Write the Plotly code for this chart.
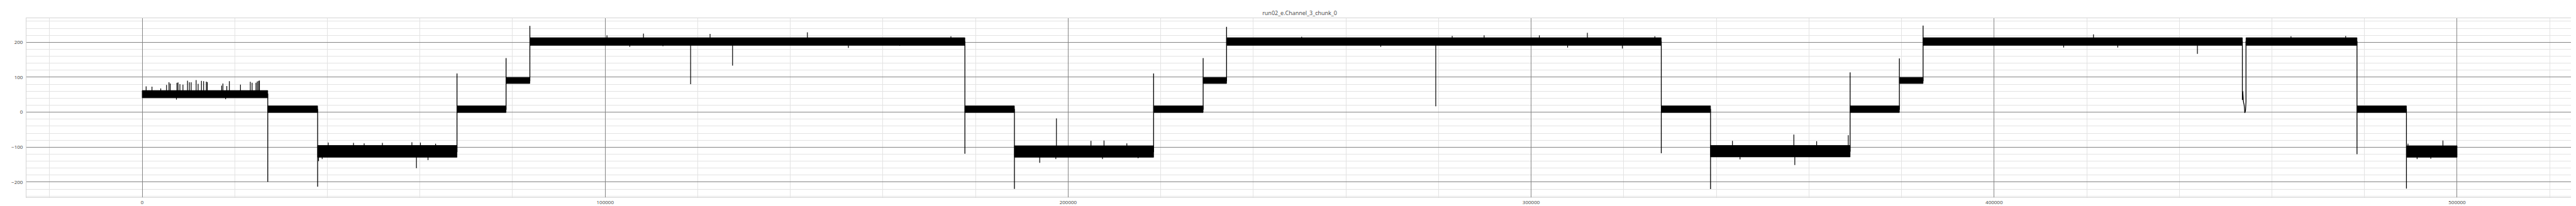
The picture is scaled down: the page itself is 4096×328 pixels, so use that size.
import plotly.graph_objects as go

TITLE = "run02_e.Channel_3_chunk_0"

# Plateaus of the trace: start sample, end sample, centre level, lower / upper edge of the noise band
seg_start = [0, 27130, 37900, 68000, 78600, 83740, 177700, 188400, 218460, 229160,
             234220, 328110, 338750, 368900, 379540, 384660, 454400, 478380, 489060]
seg_end = [27130, 37900, 68000, 78600, 83740, 177700, 188400, 218460, 229160, 234220,
           328110, 338750, 368900, 379540, 384660, 453620, 478380, 489060, 500000]
seg_level = [52, 8, -113, 8, 90, 202, 8, -113, 8, 90,
             202, 8, -112, 8, 90, 202, 202, 8, -113]
seg_low = [41, -1, -129, -1, 82, 191, -1, -129, -1, 82,
           191, -1, -128, -1, 82, 191, 191, -1, -129]
seg_high = [62, 18, -95, 18, 99, 213, 18, -96, 18, 99,
            213, 18, -95, 18, 99, 213, 213, 18, -96]

# Overshoot at each step between plateaus (None = the slow dip near 454000)
trans_peak = [-199, -213, 110.7, 154.6, 246.7, -119, -219.5, 110.7, 154.6, 244,
              -117.5, -220, 113.8, 153.7, 247.6, None, -120, -218.6]

# The dip between plateaus 16 and 17
dip_x = [453620, 453620, 453700, 453850, 454010, 454150, 454300, 454400]
dip_y = [75, 35, 60, 30, 20, -2, 5, 30]

# Isolated spikes: sample index and tip value
spike_x = [855, 2120, 4010, 5270, 5790, 6060, 7520, 7750, 8150, 8810, 9800, 10200, 10590,
           11660, 12090, 12800, 13270, 13860, 14060, 17170, 17440, 18280, 18830, 21230,
           23360, 23750, 24580, 24860, 25130, 25330, 7400, 18020,
           40200, 45650, 47950, 51890, 58260, 60100, 63380, 38100, 38880, 59240, 61740,
           100390, 108280, 122660, 143680, 174680, 105320, 112480, 118460, 127520, 152540, 163640,
           197470, 204930, 207750, 212680, 193860, 197340, 207420, 215110,
           250440, 282950, 289850, 301770, 312150, 326730, 267520, 279400, 307880, 319700,
           343480, 356750, 361670, 368500, 345120, 356950,
           421460, 464120, 475930, 415030, 426710, 443910,
           489390, 496940, 491360, 494310]
spike_y = [74, 73, 68, 78, 85.5, 82, 84, 85, 80, 79, 90, 85.5, 85.5,
           92, 81, 89.6, 88.7, 87.3, 86, 76, 82, 75, 88.7, 79,
           87, 84, 84, 88, 89.6, 90.5, 36, 37,
           -87, -88, -89, -88, -86, -87, -90, -140, -134, -160, -137,
           220, 225, 224, 228.6, 217, 187, 189, 80, 133, 184, 190,
           -17.7, -82, -81, -89, -144.7, -134, -134, -132,
           216, 218, 220, 220, 227, 217, 187, 17, 185, 182,
           -82, -64, -83, -66, -135, -151,
           222.7, 217, 218, 185, 185, 167,
           -90, -81, -134, -133]

# ---- build traces from the data ----
band_x, band_y = [], []
for s, e, lo, hi in zip(seg_start, seg_end, seg_low, seg_high):
    band_x += [s, e, e, s, s, None]
    band_y += [lo, lo, hi, hi, lo, None]

line_x, line_y = [], []
for i in range(len(seg_start)):
    line_x += [seg_start[i], seg_end[i]]
    line_y += [seg_level[i], seg_level[i]]
    if i < len(trans_peak):
        if trans_peak[i] is None:
            line_x += dip_x
            line_y += dip_y
        else:
            line_x += [seg_end[i]]
            line_y += [trans_peak[i]]


def level_at(x):
    for s, e, lv in zip(seg_start, seg_end, seg_level):
        if s <= x <= e:
            return lv
    return 0


sp_x, sp_y = [], []
for x, t in zip(spike_x, spike_y):
    sp_x += [x, x, None]
    sp_y += [level_at(x), t, None]

fig = go.Figure()
fig.add_trace(go.Scatter(x=band_x, y=band_y, mode="lines", fill="toself",
                         fillcolor="black", line=dict(color="black", width=0.8),
                         showlegend=False, hoverinfo="skip"))
fig.add_trace(go.Scatter(x=line_x, y=line_y, mode="lines",
                         line=dict(color="black", width=1.3), showlegend=False))
fig.add_trace(go.Scatter(x=sp_x, y=sp_y, mode="lines",
                         line=dict(color="black", width=1.2), showlegend=False,
                         hoverinfo="skip"))

font = "Open Sans, DejaVu Sans, sans-serif"
axis_common = dict(
    showgrid=True, gridcolor="#858585", gridwidth=1, automargin=False,
    zeroline=False, showline=True, mirror=True, linecolor="#d4d4d4", linewidth=1,
    ticks="", tickfont=dict(family=font, size=8, color="#444"),
)
fig.update_layout(
    width=4096, height=328,
    margin=dict(l=34, r=13, t=21, b=22),
    paper_bgcolor="white", plot_bgcolor="white",
    title=dict(text=TITLE, x=0.5, xref="paper", xanchor="center",
               y=1 - 13.3 / 328, yref="container", yanchor="middle",
               font=dict(family=font, size=9, color="#444"), automargin=False),
    xaxis=dict(range=[-25000, 525000], tick0=0, dtick=100000, tickformat="d",
               minor=dict(tick0=0, dtick=20000, showgrid=True, gridcolor="#e3e3e3", gridwidth=1),
               **axis_common),
    yaxis=dict(range=[-243.2, 268.8], tick0=0, dtick=100, ticklabelstandoff=3,
               minor=dict(tick0=0, dtick=20, showgrid=True, gridcolor="#e3e3e3", gridwidth=1),
               **axis_common),
)
fig.write_html("out.html")
